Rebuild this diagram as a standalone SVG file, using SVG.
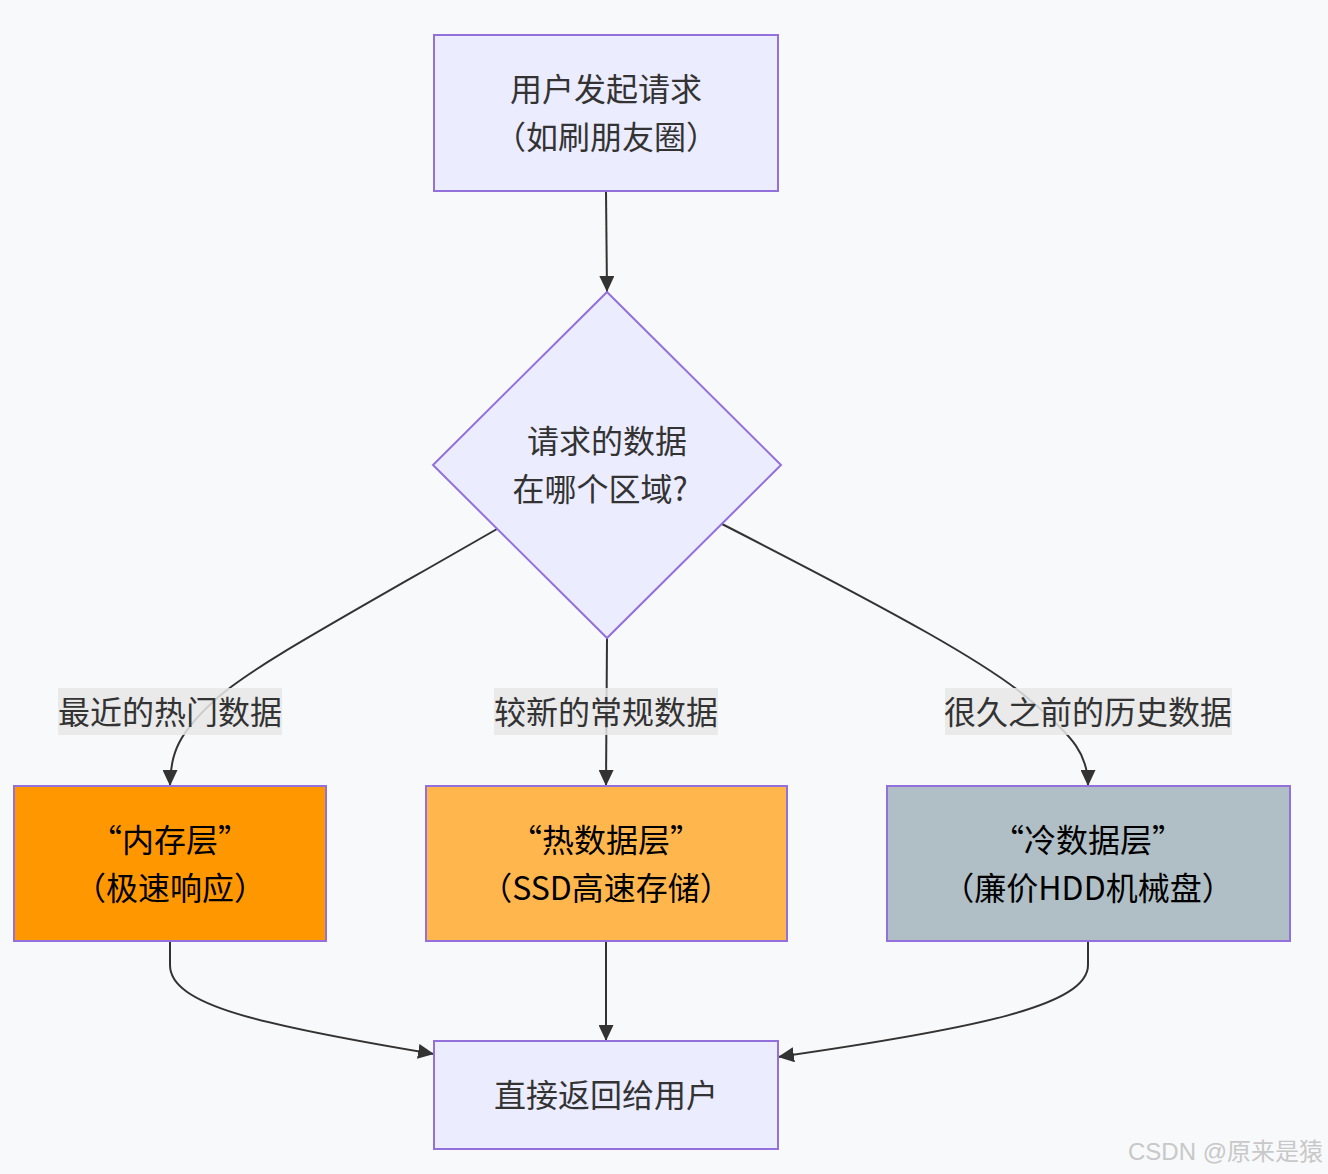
<svg xmlns="http://www.w3.org/2000/svg" width="1328" height="1174" viewBox="0 0 1328 1174">
<defs>
<style>
.t{font-family:"Noto Sans CJK SC","Noto Sans",sans-serif;font-size:32px;text-anchor:middle;dominant-baseline:central;fill:#333}
.dk{fill:#000}
.n{stroke:#9370DB;stroke-width:2}
.e{fill:none;stroke:#333;stroke-width:2}
.lb{fill:#e8e8e8;opacity:0.85}
</style>
<marker id="ah" viewBox="0 0 16 15" refX="16" refY="7.5" markerWidth="16" markerHeight="15" markerUnits="userSpaceOnUse" orient="auto">
<path d="M0,0 L16,7.5 L0,15 z" fill="#333"/>
</marker>
</defs>
<rect width="1328" height="1174" fill="#f8f9fb"/>
<g id="edges">
<path class="e" d="M606,191 L607,292" marker-end="url(#ah)"/>
<path class="e" d="M497,529 C330,625 250,668 215,700 C180,732 170,752 170,786" marker-end="url(#ah)"/>
<path class="e" d="M607,638 L606,786" marker-end="url(#ah)"/>
<path class="e" d="M722,524 C900,615 990,665 1030,700 C1075,738 1088,755 1088,786" marker-end="url(#ah)"/>
<path class="e" d="M170,941 V965 C170,1005 260,1025 434,1054" marker-end="url(#ah)"/>
<path class="e" d="M606,941 L606,1041" marker-end="url(#ah)"/>
<path class="e" d="M1088,941 V965 C1088,1005 980,1028 778,1057" marker-end="url(#ah)"/>
</g>
<g id="edge-labels">
<rect class="lb" x="58" y="688" width="224" height="47"/>
<text class="t" x="170" y="710">最近的热门数据</text>
<rect class="lb" x="494" y="688" width="224" height="47"/>
<text class="t" x="606" y="710">较新的常规数据</text>
<rect class="lb" x="945" y="688" width="287" height="47"/>
<text class="t" x="1088" y="710">很久之前的历史数据</text>
</g>
<g id="start">
<rect class="n" x="434" y="35" width="344" height="156" fill="#ECECFF"/>
<text class="t" x="606" y="87">用户发起请求</text>
<text class="t" x="606" y="135">（如刷朋友圈）</text>
</g>
<g id="decision">
<polygon class="n" points="607,292 781,465 607,638 433,465" fill="#ECECFF"/>
<text class="t" x="607" y="439">请求的数据</text>
<text class="t" x="600" y="487">在哪个区域?</text>
</g>
<g id="mem">
<rect class="n" x="14" y="786" width="312" height="155" fill="#FF9800"/>
<text class="t dk" x="170" y="838">“内存层”</text>
<text class="t dk" x="170" y="886">（极速响应）</text>
</g>
<g id="hot">
<rect class="n" x="426" y="786" width="361" height="155" fill="#FFB74D"/>
<text class="t dk" x="606" y="838">“热数据层”</text>
<text class="t dk" x="606" y="886">（SSD高速存储）</text>
</g>
<g id="cold">
<rect class="n" x="887" y="786" width="403" height="155" fill="#B0BEC5"/>
<text class="t dk" x="1088" y="838">“冷数据层”</text>
<text class="t dk" x="1088" y="886">（廉价HDD机械盘）</text>
</g>
<g id="return">
<rect class="n" x="434" y="1041" width="344" height="108" fill="#ECECFF"/>
<text class="t" x="606" y="1093">直接返回给用户</text>
</g>
<text x="1323" y="1151" font-family="Liberation Sans,&quot;Noto Sans CJK SC&quot;,sans-serif" font-size="24" fill="#c8c8c8" text-anchor="end" dominant-baseline="central">CSDN @原来是猿</text>
</svg>
